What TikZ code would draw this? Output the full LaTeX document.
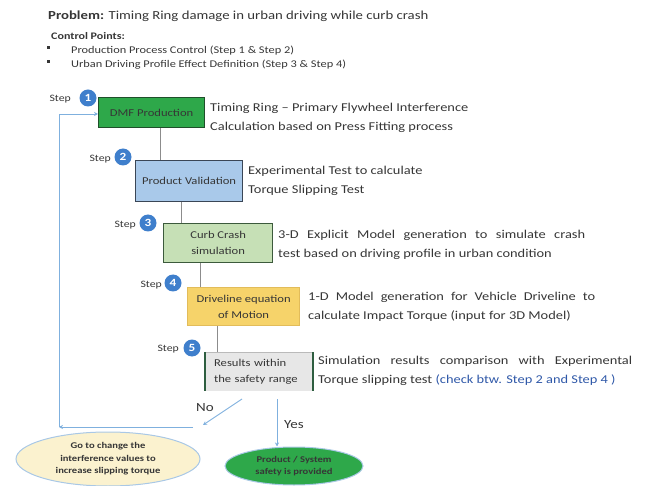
\documentclass[tikz,border=0pt]{standalone}
\usepackage{fontspec}
\setmainfont[FakeStretch=1.2]{Carlito}
\usetikzlibrary{arrows.meta,shapes.geometric}
\definecolor{txt}{HTML}{363636}
\definecolor{stepblue}{HTML}{3F7FCC}
\definecolor{dmfgreen}{HTML}{2EA84A}
\definecolor{dmfborder}{HTML}{1F4F2A}
\definecolor{pvblue}{HTML}{A9C9EA}
\definecolor{pvborder}{HTML}{3A4656}
\definecolor{ccgreen}{HTML}{C6E0B6}
\definecolor{ccborder}{HTML}{3C5A3C}
\definecolor{dvyellow}{HTML}{F6D36A}
\definecolor{dvborder}{HTML}{E2BC5A}
\definecolor{resgray}{HTML}{E7E7E7}
\definecolor{resborder}{HTML}{2E5E40}
\definecolor{flow}{HTML}{7FB0DE}
\definecolor{ellyellow}{HTML}{FBF2CF}
\definecolor{ellborder}{HTML}{A9C8E6}
\definecolor{checkblue}{HTML}{2F58A8}
\definecolor{conn}{HTML}{8C8C8C}
\tikzset{
  stepbox/.style={draw, line width=1.2pt, anchor=north west, inner sep=0pt, align=center, font=\fontsize{10.5}{16}\selectfont, text=txt},
  stepnum/.style={circle, fill=stepblue, text=white, inner sep=0pt, minimum size=17pt, font=\bfseries\fontsize{11}{11}\selectfont},
  steplbl/.style={anchor=east, inner sep=0pt, font=\fontsize{9.8}{10}\selectfont, text=txt},
  desc/.style={anchor=north west, inner sep=0pt, align=left, font=\fontsize{12}{19}\selectfont, text=txt},
  conline/.style={draw=conn, line width=0.8pt},
  flowline/.style={draw=flow, line width=0.9pt},
  flowarrow/.style={flowline, -{Stealth[length=4pt,width=4pt]}},
  ell/.style={ellipse, draw=ellborder, line width=1pt, inner sep=0pt, align=center, font=\bfseries\fontsize{8.8}{12.5}\selectfont, text=txt}
}
\begin{document}
\begin{tikzpicture}[x=1pt,y=-1pt]
\useasboundingbox (0,0) rectangle (645,486);
% header
\node[anchor=base west, inner sep=0pt, font=\fontsize{12.3}{14}\selectfont, text=txt] (title) at (48,20) {\textbf{Problem:} Timing Ring damage in urban driving while curb crash};
\node[anchor=base west, inner sep=0pt, font=\bfseries\fontsize{10}{12}\selectfont, text=txt] (cp) at (51,40) {Control Points:};
\node[anchor=base west, inner sep=0pt, font=\fontsize{10.3}{12}\selectfont, text=txt] (b1) at (71,54) {Production Process Control (Step 1 \& Step 2)};
\node[anchor=base west, inner sep=0pt, font=\fontsize{10.3}{12}\selectfont, text=txt] (b2) at (71,68) {Urban Driving Profile Effect Definition (Step 3 \& Step 4)};
\fill[txt] (46.5,49.5) rectangle +(3,-3);
\fill[txt] (46.5,63.5) rectangle +(3,-3);
% boxes
\node[stepbox, fill=dmfgreen, draw=dmfborder, minimum width=106pt, minimum height=30pt] (s1) at (98,97) {DMF Production};
\node[stepbox, fill=pvblue, draw=pvborder, minimum width=107pt, minimum height=41pt] (s2) at (135,160) {Product Validation};
\node[stepbox, fill=ccgreen, draw=ccborder, minimum width=109pt, minimum height=39pt] (s3) at (163,223) {Curb Crash\\simulation};
\node[stepbox, fill=dvyellow, draw=dvborder, minimum width=112pt, minimum height=38pt] (s4) at (187,287) {Driveline equation\\of Motion};
\node[stepbox, fill=resgray, draw=none, minimum width=107pt, minimum height=38pt, align=left, text width=100pt, inner xsep=0pt] (s5) at (205,352) {\hspace*{5pt}Results within\\\hspace*{5pt}the safety range};
\draw[conn!60, line width=0.6pt] (s5.north west) -- (s5.north east);
\draw[resborder, line width=1.8pt] (s5.north west) -- (s5.south west);
\draw[resborder, line width=1.8pt] (s5.north east) -- (s5.south east);
% step labels
\node[stepnum] (n1) at (88,98) {1};
\node[steplbl] (l1) at (71,99) {Step};
\node[stepnum] (n2) at (123,157) {2};
\node[steplbl] (l2) at (111,159) {Step};
\node[stepnum] (n3) at (148,223) {3};
\node[steplbl] (l3) at (136,225) {Step};
\node[stepnum] (n4) at (173,283) {4};
\node[steplbl] (l4) at (162,285) {Step};
\node[stepnum] (n5) at (192,348) {5};
\node[steplbl] (l5) at (179,349) {Step};
% descriptions
\node[desc] (d1) at (210,103) {Timing Ring -- Primary Flywheel Interference\\Calculation based on Press Fitting process};
\node[desc] (d2) at (248,166) {Experimental Test to calculate\\Torque Slipping Test};
\node[desc] (d3) at (278,230) {\makebox[307pt][s]{3-D Explicit Model generation to simulate crash}\\test based on driving profile in urban condition};
\node[desc] (d4) at (308,292) {\makebox[287pt][s]{1-D Model generation for Vehicle Driveline to}\\calculate Impact Torque (input for 3D Model)};
\node[desc] (d5) at (318,356) {\makebox[314pt][s]{Simulation results comparison with Experimental}\\Torque slipping test \textcolor{checkblue}{(check btw. Step 2 and Step 4 )}};
% connectors between boxes
\coordinate (c1) at (160,127);
\draw[conline] (s1.south -| c1) -- (s2.north -| c1);
\coordinate (c2) at (181,0);
\draw[conline] (s2.south -| c2) -- (s3.north -| c2);
\coordinate (c3) at (200,0);
\draw[conline] (s3.south -| c3) -- (s4.north -| c3);
\coordinate (c4) at (217,0);
\draw[conline] (s4.south -| c4) -- (s5.north -| c4);
% ellipses
\node[ell, fill=ellyellow, minimum width=184pt, minimum height=54pt] (e1) at (108,459) {Go to change the\\interference values to\\increase slipping torque};
\node[ell, fill=dmfgreen, draw=ellborder, minimum width=138pt, minimum height=38pt] (e2) at (294,466) {Product / System\\safety is provided};
% decision arrows
\coordinate (noS) at (242,399);
\coordinate (noE) at (203,425);
\draw[flowarrow] (noS) -- (noE);
\node[anchor=base west, inner sep=0pt, font=\fontsize{12.5}{14}\selectfont, text=txt] (no) at (196,411) {No};
\coordinate (yesS) at (277,399);
\draw[flowarrow] (yesS) -- (yesS |- e2.north);
\node[anchor=base west, inner sep=0pt, font=\fontsize{12.5}{14}\selectfont, text=txt] (yes) at (284,428) {Yes};
% loop back
\coordinate (lb1) at (193,427);
\coordinate (lb2) at (59,427);
\coordinate (lb3) at (59,114);
\draw[flowarrow] (lb1) -- (lb2);
\draw[flowarrow] (lb2) -- (lb3) -- (s1.west |- lb3);
\end{tikzpicture}
\end{document}
